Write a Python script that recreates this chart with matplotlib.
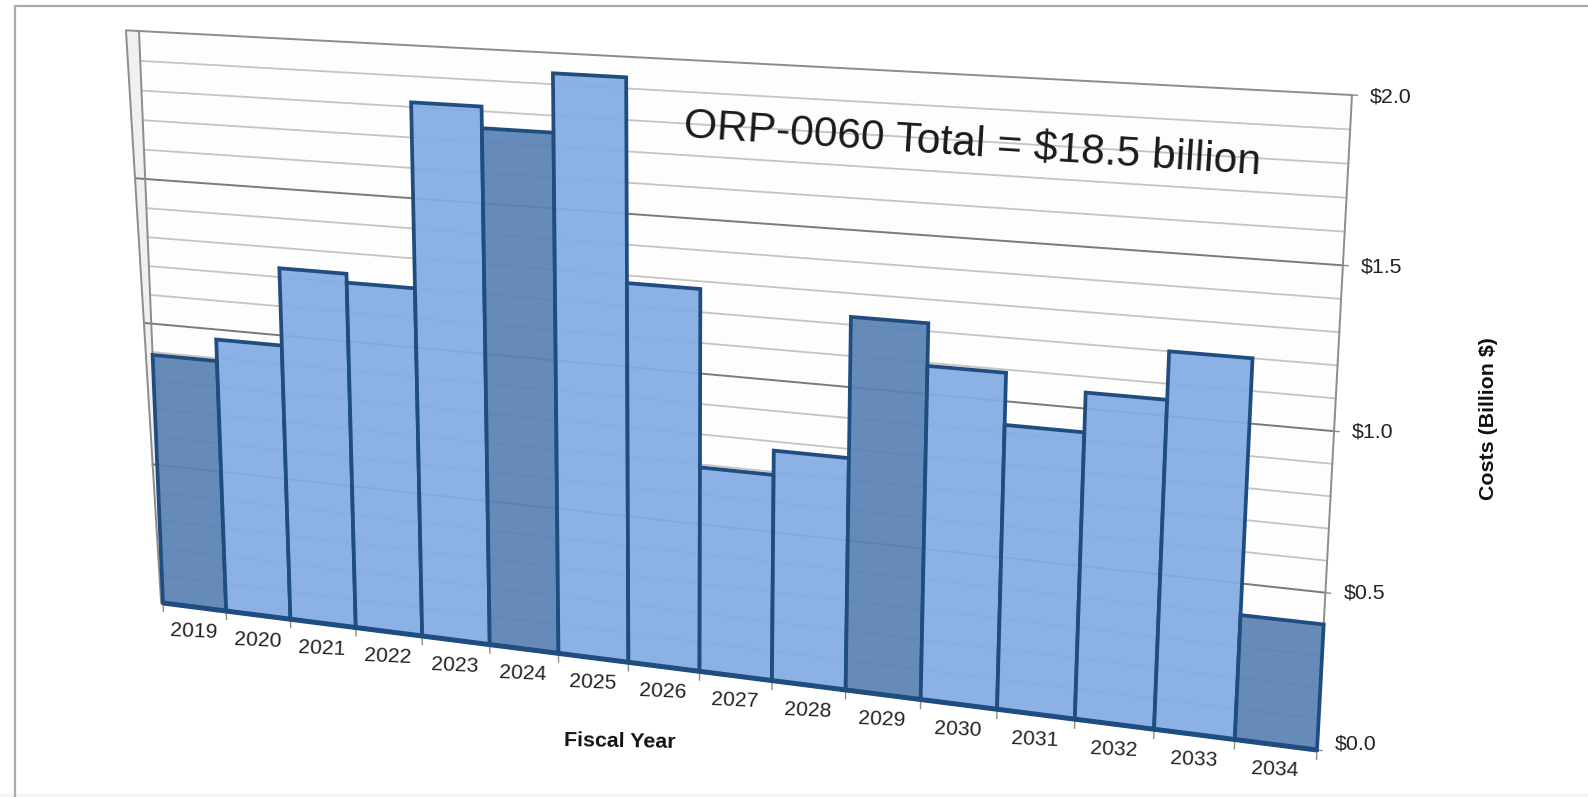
import matplotlib
matplotlib.use('Agg')
import matplotlib.pyplot as plt
import matplotlib.transforms as mtransforms
from matplotlib.colors import to_rgba
import numpy as np

plt.rcParams['font.family'] = ['Liberation Sans', 'DejaVu Sans']

years = list(range(2019, 2035))
costs = [0.89, 0.965, 1.23, 1.20, 1.815, 1.745, 1.935, 1.275,
         0.69, 0.77, 1.225, 1.09, 0.925, 1.05, 1.20, 0.40]
dark_years = [2019, 2024, 2029, 2034]
major_ticks = [0.0, 0.5, 1.0, 1.5, 2.0]
minor_ticks = [0.1, 0.2, 0.3, 0.4, 0.6, 0.7, 0.8, 0.9,
               1.1, 1.2, 1.3, 1.4, 1.6, 1.7, 1.8, 1.9]
major_labels = ['$0.0', '$0.5', '$1.0', '$1.5', '$2.0']

W, H = 1588, 797
X_MAX, Y_MAX = len(years), 2.0


class Perspective(mtransforms.Transform):
    # homography from chart units (year slot, billions) to page pixels
    input_dims = 2
    output_dims = 2
    has_inverse = False

    def __init__(self, src, dst):
        super().__init__()
        a, b = [], []
        for (x, y), (u, v) in zip(src, dst):
            a.append([x, y, 1, 0, 0, 0, -u * x, -u * y])
            a.append([0, 0, 0, x, y, 1, -v * x, -v * y])
            b += [u, v]
        self.m = np.append(np.linalg.solve(np.array(a), np.array(b)), 1).reshape(3, 3)

    def transform_non_affine(self, values):
        values = np.asarray(values, dtype=float)
        p = np.column_stack([values, np.ones(len(values))]) @ self.m.T
        return p[:, :2] / p[:, 2:3]


fig = plt.figure(figsize=(W / 100, H / 100), dpi=100, facecolor='white')
ax = fig.add_axes([0, 0, 1, 1])
ax.set_xlim(0, W)
ax.set_ylim(H, 0)
ax.axis('off')

persp = Perspective([(0, Y_MAX), (X_MAX, Y_MAX), (0, 0), (X_MAX, 0)],
                    [(139, 31), (1352, 95), (163, 603), (1317, 750)])
tr = persp + ax.transData

# page frame
ax.plot([15, 15, W], [H, 5.5, 5.5], color='#aaaaaa', lw=1.6, zorder=1)
ax.axhspan(793, H, color='#f6f6f6', lw=0, zorder=0)

# back wall and side wall
ax.fill([0, X_MAX, X_MAX, 0], [0, 0, Y_MAX, Y_MAX], transform=tr, color='#fdfdfd', lw=0, zorder=1)
wall_x = lambda v: -0.03 - 0.085 * v
ax.fill([0, 0, wall_x(Y_MAX), wall_x(0)], [0, Y_MAX, Y_MAX, 0], transform=tr,
        color='#f0f0f0', lw=0, zorder=1)
ax.plot([wall_x(0), wall_x(Y_MAX), 0, X_MAX, X_MAX], [0, Y_MAX, Y_MAX, Y_MAX, 0],
        transform=tr, color='#8c8c8c', lw=1.4, zorder=3)
ax.plot([0, 0], [0, Y_MAX], transform=tr, color='#8c8c8c', lw=1.4, zorder=3)

for v in minor_ticks:
    ax.plot([0, X_MAX], [v, v], transform=tr, color='#c4c4c4', lw=1.3, zorder=2)
for v in major_ticks[1:-1]:
    ax.plot([wall_x(v), 0, X_MAX], [v, v, v], transform=tr, color='#7a7a7a', lw=1.4, zorder=2)

# bars, see-through so the grid stays visible
x = np.arange(len(years)) + 0.5
colors = [to_rgba('#5b82b4' if y in dark_years else '#83ace4', 0.93) for y in years]
ax.bar(x, costs, width=1.0, color=colors, edgecolor='#1f4d80', linewidth=2.7,
       transform=tr, zorder=4, clip_on=False)
ax.plot([0, X_MAX], [0, 0], transform=tr, color='#1f4d80', lw=3.6, zorder=5,
        solid_capstyle='butt')

# ticks and labels
for i in range(len(years) + 1):
    ax.plot([i, i], [0, -0.03], transform=tr, color='#8c8c8c', lw=1, zorder=3)
for i, year in enumerate(years):
    ax.annotate(str(year), xy=(i + 0.5, 0), xycoords=tr, xytext=(-0.5, -18),
                textcoords='offset points', ha='center', va='center',
                fontsize=15.2, rotation=-2.5, color='#222222')

label_shift = [-6, 0, 1, 2, 2]
for v, lab, dy in zip(major_ticks, major_labels, label_shift):
    ax.plot([X_MAX, X_MAX + 0.06], [v, v], transform=tr, color='#8c8c8c', lw=1, zorder=3)
    ax.annotate(lab, xy=(X_MAX, v), xycoords=tr, xytext=(28, -dy * 0.72),
                textcoords='offset points', ha='center', va='center',
                fontsize=15.4, color='#222222')

ax.text(620, 741, 'Fiscal Year', fontsize=15.4, fontweight='bold', ha='center',
        va='center', rotation=-1, color='#111111', zorder=6)
ax.text(1489, 419, 'Costs (Billion $)', fontsize=15.4, fontweight='bold', ha='center',
        va='center', rotation=90, color='#111111', zorder=6)
ax.text(972, 144, 'ORP-0060 Total = $18.5 billion', fontsize=30.7, ha='center',
        va='center', rotation=-3.7, color='#1a1a1a', zorder=6)

fig.savefig('out.png', dpi=100)
